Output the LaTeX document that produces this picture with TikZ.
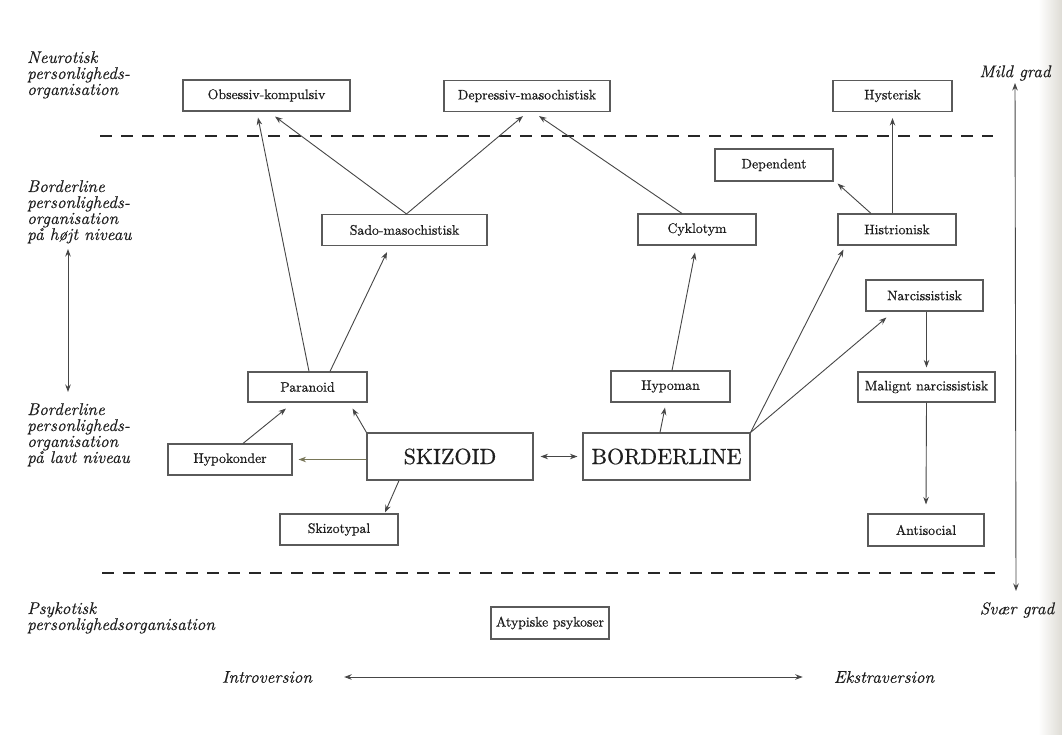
\documentclass[tikz,border=0pt]{standalone}
\usepackage{fontspec}
\usetikzlibrary{arrows.meta,calc}
% slightly heavier faces for the printed look
\newfontfamily\boxfont{lmroman10-regular.otf}[FakeBold=0.6]
\newfontfamily\lblfont{lmroman10-italic.otf}[FakeBold=0.25]
\definecolor{ink}{RGB}{30,30,30}
\definecolor{boxline}{RGB}{90,90,90}
\definecolor{arrowline}{RGB}{70,70,70}
\definecolor{oliveline}{RGB}{120,118,88}
\definecolor{edgeshade}{RGB}{222,220,213}
\begin{document}
\begin{tikzpicture}[x=1pt,y=-1pt,
  box/.style={draw=boxline,line width=1.1pt,fill=white,inner sep=0pt,
    font=\boxfont\fontsize{13.8}{15}\selectfont,text=ink},
  bigbox/.style={box,font=\boxfont\fontsize{22}{24}\selectfont},
  lbl/.style={font=\lblfont\fontsize{17}{16}\selectfont,align=left,
    inner sep=0pt,anchor=north west,text=ink},
  axislbl/.style={font=\lblfont\fontsize{17}{18}\selectfont,inner sep=0pt,text=ink},
  arr/.style={draw=arrowline,line width=0.9pt,-{Stealth[length=7.5pt,width=5.5pt]}},
  dbl/.style={draw=arrowline,line width=0.9pt,
    {Stealth[length=7.5pt,width=5.5pt]}-{Stealth[length=7.5pt,width=5.5pt]}},
  levelline/.style={draw=black!85,dash pattern=on 12pt off 9pt}
]
% page
\fill[white] (0,0) rectangle (1062,735);
\shade[left color=white,right color=edgeshade,shading angle=90] (1038,0) rectangle (1062,735);
\useasboundingbox (0,0) rectangle (1062,735);

% level labels on the left
\node[lbl] (neur) at (27,51) {Neurotisk\\personligheds-\\organisation};
\node[lbl] (bhigh) at (27,180) {Borderline\\personligheds-\\organisation\\på højt niveau};
\node[lbl] (blow) at (27,403) {Borderline\\personligheds-\\organisation\\på lavt niveau};
\node[lbl] (psyk) at (27,602) {Psykotisk\\personlighedsorganisation};

% severity and introversion axes
\node[axislbl] (mild) at (1015,73) {Mild grad};
\node[axislbl] (svaer) at (1017,610) {Svær grad};
\node[axislbl] (intro) at (267,677) {Introversion};
\node[axislbl] (ekstra) at (884,677) {Ekstraversion};

% level boundaries
\coordinate (t1) at (100,136);
\coordinate (t2) at (993,136);
\coordinate (b1) at (102,573);
\coordinate (b2) at (995,573);
\draw[levelline,line width=2.4pt] (t1) -- (t2);
\draw[levelline,line width=2pt] (b1) -- (b2);

% personality boxes
\node[box,minimum width=167,minimum height=31] (obs) at (266.5,95.5) {Obsessiv-kompulsiv};
\node[box,minimum width=166,minimum height=31] (dep) at (527,96) {Depressiv-masochistisk};
\node[box,minimum width=119,minimum height=31] (hys) at (892.5,96) {Hysterisk};
\node[box,minimum width=118,minimum height=32] (depd) at (774,165) {Dependent};
\node[box,minimum width=165,minimum height=31] (sado) at (404.5,230) {Sado-masochistisk};
\node[box,minimum width=118,minimum height=31] (cyk) at (697,229.5) {Cyklotym};
\node[box,minimum width=118,minimum height=31] (hist) at (897,229.5) {Histrionisk};
\node[box,minimum width=117,minimum height=31] (narc) at (924.5,295.5) {Narcissistisk};
\node[box,minimum width=119,minimum height=30] (para) at (307.5,387) {Paranoid};
\node[box,minimum width=119,minimum height=31] (hypo) at (670.5,386.5) {Hypoman};
\node[box,minimum width=137,minimum height=30] (mal) at (926.5,387) {Malignt narcissistisk};
\node[box,minimum width=124,minimum height=31] (hypok) at (230,459.5) {Hypokonder};
\node[bigbox,minimum width=166,minimum height=47] (skiz) at (450,456.5) {SKIZOID};
\node[bigbox,minimum width=167,minimum height=47] (bord) at (666.5,456.5) {BORDERLINE};
\node[box,minimum width=118,minimum height=31] (skizt) at (339,529.5) {Skizotypal};
\node[box,minimum width=116,minimum height=32] (anti) at (926,530) {Antisocial};
\node[box,minimum width=118,minimum height=32] (atyp) at (550,623) {Atypiske psykoser};

% connections
\draw[arr] ($(para.north)+(1.5,0)$) -- ($(obs.south)+(-8.5,6)$);
\draw[arr] ($(sado.north)+(2,0)$) -- ($(obs.south)+(8.5,5)$);
\draw[arr] ($(sado.north)+(2,0)$) -- ($(dep.south)+(-4,4)$);
\draw[arr] ($(cyk.north)+(-15,0)$) -- ($(dep.south)+(12,4)$);
\draw[arr] (hist.north -| hys.south) -- ($(hys.south)+(0,6)$);
\draw[arr] ($(hist.north)+(-26,0)$) -- ($(depd.south east)+(4,2)$);
\draw[arr] ($(para.north)+(22.5,0)$) -- ($(sado.south)+(-17.5,6)$);
\draw[arr] ($(hypo.north)+(1.5,0)$) -- ($(cyk.south)+(-2,7)$);
\draw[arr] ($(hypok.north)+(13,0)$) -- ($(para.south)+(-21.5,6)$);
\draw[arr] (skiz.north west) -- ($(para.south east)+(-15,6)$);
\draw[arr,draw=oliveline] (skiz.west |- hypok.east) -- ($(hypok.east)+(6,0)$);
\draw[arr] ($(skiz.south)+(-51,0)$) -- ($(skizt.north)+(46,-1)$);
\draw[dbl] ($(skiz.east)+(7,0)$) -- ($(bord.west)+(-5,0)$);
\draw[arr] ($(bord.north)+(-6.5,0)$) -- ($(hypo.south)+(-5.5,5)$);
\draw[arr] (bord.north east) -- ($(hist.south west)+(6,4)$);
\draw[arr] (bord.north east) -- ($(narc.south west)+(21,6)$);
\draw[arr] (mal.north |- narc.south) -- ($(mal.north)+(0,-4)$);
\draw[arr] (mal.south) -- ($(anti.north)+(0,-9)$);

% axes
\coordinate (sevtop) at (1015,83);
\coordinate (sevbot) at (1016,591);
\draw[dbl] (sevtop) -- (sevbot);
\coordinate (lvtop) at (68,249);
\coordinate (lvbot) at (68,392);
\draw[dbl] (lvtop) -- (lvbot);
\draw[dbl] ($(intro.east)+(32,0)$) -- ($(ekstra.west)+(-31,0)$);
\end{tikzpicture}
\end{document}
